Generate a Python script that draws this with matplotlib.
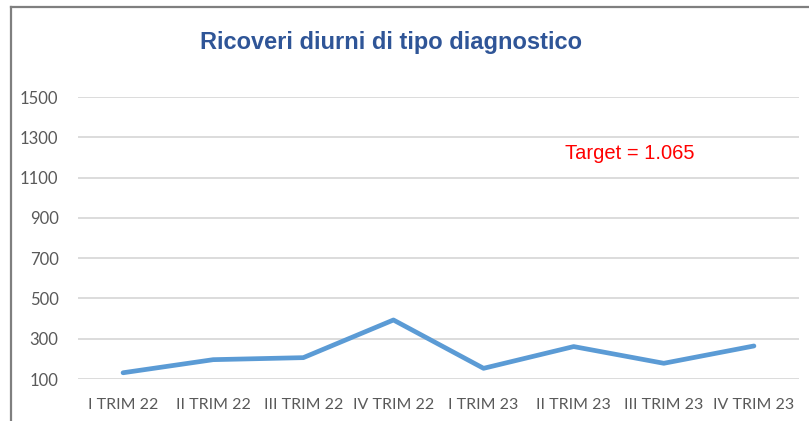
import matplotlib.pyplot as plt
from matplotlib.lines import Line2D

# quarterly values
quarters = ['I TRIM 22', 'II TRIM 22', 'III TRIM 22', 'IV TRIM 22',
            'I TRIM 23', 'II TRIM 23', 'III TRIM 23', 'IV TRIM 23']
ricoveri = [131, 196, 206, 393, 153, 261, 178, 264]
y_ticks = [100, 300, 500, 700, 900, 1100, 1300, 1500]
target_label = 'Target = 1.065'

fig = plt.figure(figsize=(8.09, 4.21), dpi=100)
ax = fig.add_axes([78 / 809, 1 - 379 / 421, (799 - 78) / 809, (379 - 97) / 421])

x = list(range(len(quarters)))
ax.plot(x, ricoveri, color='#5B9BD5', linewidth=3.4, solid_capstyle='round',
        solid_joinstyle='round', zorder=3)

ax.set_xlim(-0.5, len(quarters) - 0.5)
ax.set_ylim(100, 1500)
ax.set_yticks(y_ticks)
ax.set_xticks(x)
ax.set_xticklabels(quarters)
ax.grid(axis='y', color='#D9D9D9', linewidth=1.3)
ax.set_axisbelow(True)
for s in ax.spines.values():
    s.set_visible(False)
ax.tick_params(length=0, colors='#595959', labelsize=11.5)
for lab in ax.get_xticklabels() + ax.get_yticklabels():
    lab.set_family('Lato')
ax.tick_params(axis='x', pad=14)
ax.tick_params(axis='y', pad=14, labelsize=12)

ax.text(0.765, 0.801, target_label, transform=ax.transAxes, color='#FF0000',
        fontsize=14.5, family='Liberation Sans', ha='center', va='center')

fig.text(391 / 809, 1 - 42 / 421, 'Ricoveri diurni di tipo diagnostico',
         color='#2F5597', fontsize=17, fontweight='bold',
         family='Liberation Sans', ha='center', va='center')

# frame lines of the screenshot
fig.add_artist(Line2D([10.5 / 809, 10.5 / 809], [0, 1 - 6.5 / 421],
                      transform=fig.transFigure, color='#7F7F7F', linewidth=1.6))
fig.add_artist(Line2D([10.5 / 809, 1], [1 - 6.5 / 421, 1 - 6.5 / 421],
                      transform=fig.transFigure, color='#7F7F7F', linewidth=1.6))

fig.savefig('out.png', dpi=100)
